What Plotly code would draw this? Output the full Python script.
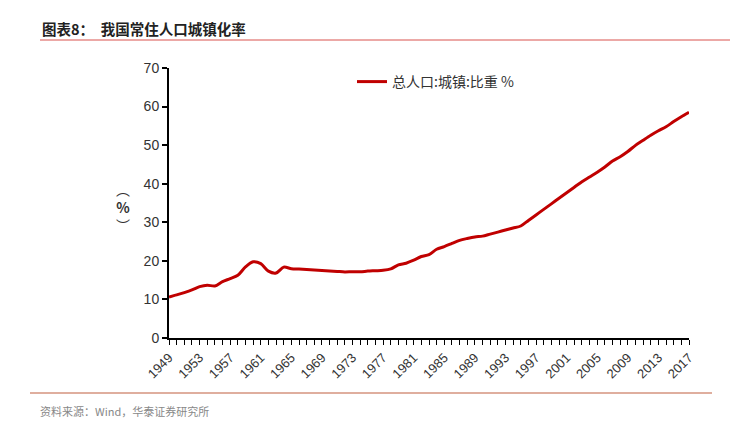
import plotly.graph_objects as go

years = list(range(1949, 2018))
urban_rate = [10.64, 11.18, 11.78, 12.46, 13.31, 13.69, 13.48, 14.62, 15.39, 16.25,
              18.41, 19.75, 19.29, 17.33, 16.84, 18.37, 17.98, 17.86, 17.74, 17.62,
              17.50, 17.38, 17.26, 17.13, 17.20, 17.16, 17.34, 17.44, 17.55, 17.92,
              18.96, 19.39, 20.16, 21.13, 21.62, 23.01, 23.71, 24.52, 25.32, 25.81,
              26.21, 26.41, 26.94, 27.46, 27.99, 28.51, 29.04, 30.48, 31.91, 33.35,
              34.78, 36.22, 37.66, 39.09, 40.53, 41.76, 42.99, 44.34, 45.89, 46.99,
              48.34, 49.95, 51.27, 52.57, 53.73, 54.77, 56.10, 57.35, 58.52]
tick_labels = [str(y) if (y - 1949) % 4 == 0 else "" for y in years]
y_ticks = [0, 10, 20, 30, 40, 50, 60, 70]

title_text = "图表8：  我国常住人口城镇化率"
series_name = "总人口:城镇:比重 %"
source_text = "资料来源：Wind，华泰证券研究所"

# page offset of ~8px (body margin) is compensated
L, T, PW, PH = 161, 60, 520, 270
W, H = 738, 428


def px(x):
    return (x - 8 - L) / PW


def py(y):
    return 1 - (y - 8 - T) / PH


fig = go.Figure()
fig.add_trace(go.Scatter(
    x=years, y=urban_rate, mode="lines", name=series_name,
    line=dict(color="#C00000", width=3, shape="spline", smoothing=0.8),
))

fig.update_layout(
    width=W, height=H,
    margin=dict(l=L, r=W - L - PW, t=T, b=H - T - PH),
    paper_bgcolor="white", plot_bgcolor="white",
    font=dict(family="Noto Sans CJK SC, Noto Sans, sans-serif", color="#333333"),
    showlegend=True,
    legend=dict(x=px(352), y=py(66), xanchor="left", yanchor="top",
                bgcolor="rgba(0,0,0,0)", font=dict(size=14, color="#333333")),
    xaxis=dict(
        range=[1949, 2017], tickmode="array", tickvals=years, ticktext=tick_labels,
        tickangle=-45, ticks="outside", ticklen=5, tickcolor="black", tickwidth=1,
        showline=True, linecolor="black", linewidth=2, showgrid=False,
        zeroline=False, tickfont=dict(size=13, color="#333333", family="Liberation Sans"),
    ),
    yaxis=dict(
        range=[0, 70], tickmode="array", tickvals=y_ticks,
        ticks="outside", ticklen=5, tickcolor="black", tickwidth=1.5,
        showline=True, linecolor="black", linewidth=2, showgrid=False,
        zeroline=False, tickfont=dict(size=14, color="#333333", family="Liberation Sans"),
    ),
)

fig.add_annotation(text="<b>" + title_text + "</b>", xref="paper", yref="paper",
                   x=px(40), y=py(28), xanchor="left", yanchor="middle",
                   showarrow=False, font=dict(size=14.5, color="#222222"))
fig.add_annotation(text="︵<br><b>%</b><br>︶", xref="paper", yref="paper",
                   x=px(123), y=py(207), xanchor="center", yanchor="middle",
                   showarrow=False, font=dict(size=14, color="#333333"))
fig.add_annotation(text=source_text, xref="paper", yref="paper",
                   x=px(38), y=py(411), xanchor="left", yanchor="middle",
                   showarrow=False, font=dict(size=11, color="#888888"))

fig.add_shape(type="line", xref="paper", yref="paper",
              x0=px(40), x1=px(746), y0=py(40), y1=py(40),
              line=dict(color="#D9534F", width=1))
fig.add_shape(type="line", xref="paper", yref="paper",
              x0=px(30), x1=px(712), y0=py(393), y1=py(393),
              line=dict(color="#D4937E", width=1.5))

fig.write_html("out.html")
